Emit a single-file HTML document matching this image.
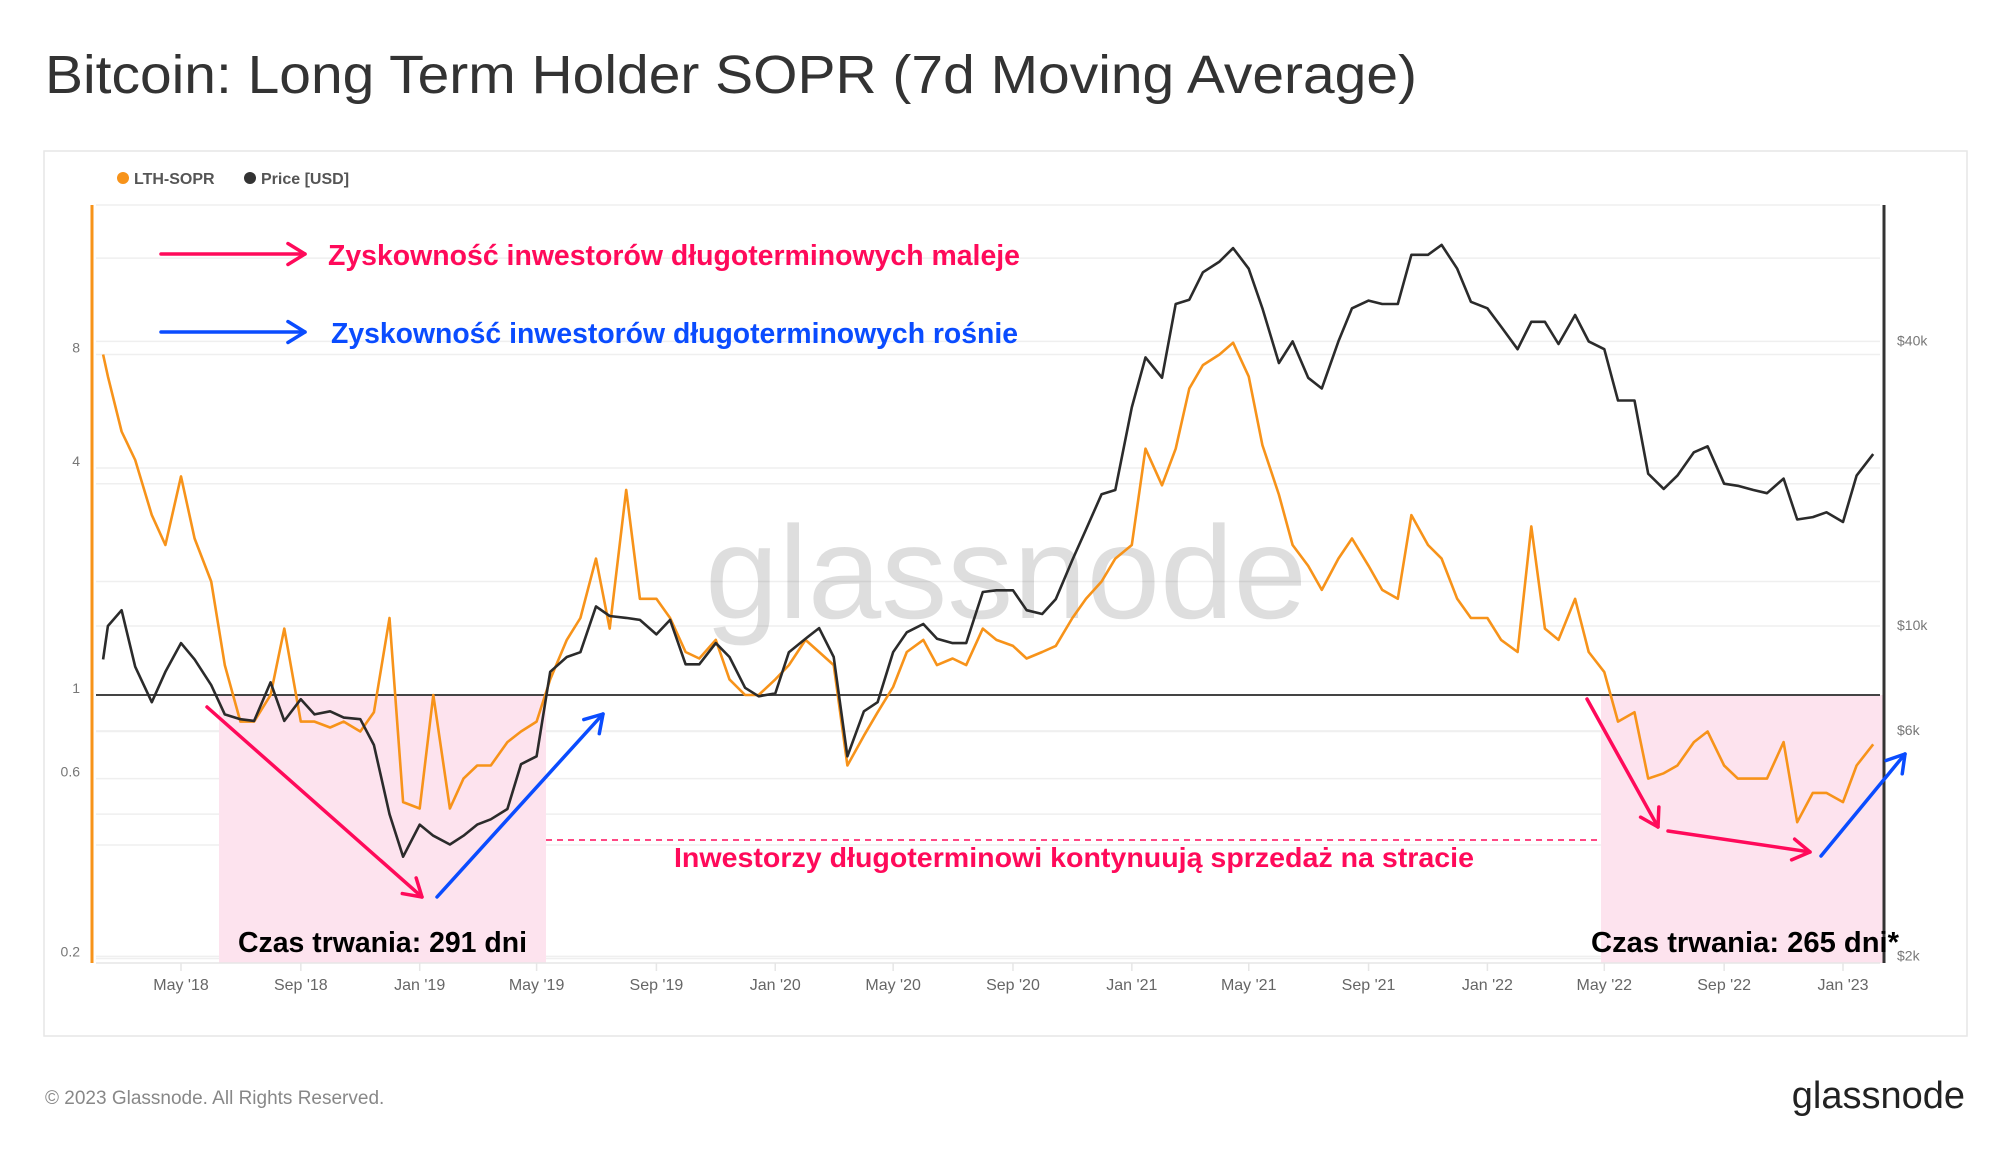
<!DOCTYPE html>
<html><head><meta charset="utf-8"><style>
html,body{margin:0;padding:0;background:#fff;}
svg{display:block;font-family:"Liberation Sans",sans-serif;}
</style></head><body>
<svg id="chart" width="2000" height="1152" viewBox="0 0 2000 1152" xmlns="http://www.w3.org/2000/svg">
<rect width="2000" height="1152" fill="#fff"/>
<text x="45" y="93" font-size="54" fill="#333" textLength="1372" lengthAdjust="spacingAndGlyphs">Bitcoin: Long Term Holder SOPR (7d Moving Average)</text>
<rect x="44" y="151" width="1923" height="885" fill="none" stroke="#e6e6e6" stroke-width="1.5"/>
<g>
<circle cx="123" cy="178" r="6" fill="#f7931a"/>
<text x="134" y="184" font-size="16" font-weight="bold" fill="#555">LTH-SOPR</text>
<circle cx="250" cy="178" r="6" fill="#333"/>
<text x="261" y="184" font-size="16" font-weight="bold" fill="#555">Price [USD]</text>
</g>
<g id="grid"></g>
<g id="shade"></g>
<text x="1006" y="618" font-size="132" fill="#000" fill-opacity="0.13" text-anchor="middle">glassnode</text>
<g id="axes"></g>
<g id="series"></g>
<g id="annot"></g>
<text x="45" y="1104" font-size="19" fill="#888">© 2023 Glassnode. All Rights Reserved.</text>
<text x="1965" y="1108" font-size="38" fill="#222" text-anchor="end">glassnode</text>
</svg>
<script>
const dates=["2018-02-10","2018-02-15","2018-03-01","2018-03-15","2018-04-01","2018-04-15","2018-05-01","2018-05-15","2018-06-01","2018-06-15","2018-07-01","2018-07-15","2018-08-01","2018-08-15","2018-09-01","2018-09-15","2018-10-01","2018-10-15","2018-11-01","2018-11-15","2018-12-01","2018-12-15","2019-01-01","2019-01-15","2019-02-01","2019-02-15","2019-03-01","2019-03-15","2019-04-01","2019-04-15","2019-05-01","2019-05-15","2019-06-01","2019-06-15","2019-07-01","2019-07-15","2019-08-01","2019-08-15","2019-09-01","2019-09-15","2019-10-01","2019-10-15","2019-11-01","2019-11-15","2019-12-01","2019-12-15","2020-01-01","2020-01-15","2020-02-01","2020-02-15","2020-03-01","2020-03-15","2020-04-01","2020-04-15","2020-05-01","2020-05-15","2020-06-01","2020-06-15","2020-07-01","2020-07-15","2020-08-01","2020-08-15","2020-09-01","2020-09-15","2020-10-01","2020-10-15","2020-11-01","2020-11-15","2020-12-01","2020-12-15","2021-01-01","2021-01-15","2021-02-01","2021-02-15","2021-03-01","2021-03-15","2021-04-01","2021-04-15","2021-05-01","2021-05-15","2021-06-01","2021-06-15","2021-07-01","2021-07-15","2021-08-01","2021-08-15","2021-09-01","2021-09-15","2021-10-01","2021-10-15","2021-11-01","2021-11-15","2021-12-01","2021-12-15","2022-01-01","2022-01-15","2022-02-01","2022-02-15","2022-03-01","2022-03-15","2022-04-01","2022-04-15","2022-05-01","2022-05-15","2022-06-01","2022-06-15","2022-07-01","2022-07-15","2022-08-01","2022-08-15","2022-09-01","2022-09-15","2022-10-01","2022-10-15","2022-11-01","2022-11-15","2022-12-01","2022-12-15","2023-01-01","2023-01-15","2023-02-01"];
const priceUsd=[8500,10000,10800,8200,6900,8000,9200,8500,7500,6500,6350,6300,7600,6300,7000,6500,6600,6400,6350,5600,4000,3250,3800,3600,3450,3600,3800,3900,4100,5100,5300,8000,8600,8800,11000,10500,10400,10300,9600,10300,8300,8300,9200,8600,7400,7100,7200,8800,9400,9900,8600,5300,6600,6900,8800,9700,10100,9400,9200,9200,11800,11900,11900,10800,10600,11400,13800,16000,19000,19400,29000,37000,33500,48000,49000,56000,59000,63000,57000,47000,36000,40000,33500,31800,40000,47000,48800,48000,48000,61000,61000,64000,57000,48500,47000,43000,38500,44000,44000,39500,45500,40000,38500,30000,30000,21000,19500,20800,23300,24000,20000,19800,19400,19100,20500,16800,17000,17400,16600,20800,23100];
const lthSopr=[8,7,5,4.2,3,2.5,3.8,2.6,2.0,1.2,0.85,0.85,1.0,1.5,0.85,0.85,0.82,0.85,0.8,0.9,1.6,0.52,0.5,1.0,0.5,0.6,0.65,0.65,0.75,0.8,0.85,1.1,1.4,1.6,2.3,1.5,3.5,1.8,1.8,1.6,1.3,1.25,1.4,1.1,1.0,1.0,1.1,1.2,1.4,1.3,1.2,0.65,0.78,0.9,1.05,1.3,1.4,1.2,1.25,1.2,1.5,1.4,1.35,1.25,1.3,1.35,1.6,1.8,2.0,2.3,2.5,4.5,3.6,4.5,6.5,7.5,8,8.6,7,4.6,3.4,2.5,2.2,1.9,2.3,2.6,2.2,1.9,1.8,3.0,2.5,2.3,1.8,1.6,1.6,1.4,1.3,2.8,1.5,1.4,1.8,1.3,1.15,0.85,0.9,0.6,0.62,0.65,0.75,0.8,0.65,0.6,0.6,0.6,0.75,0.46,0.55,0.55,0.52,0.65,0.74];
const soprTicks=[8,4,1,0.6,0.2];
const priceTicks=[40000,10000,6000,2000];
const priceTickLabels=["$40k","$10k","$6k","$2k"];
const xTickDates=["2018-05-01","2018-09-01","2019-01-01","2019-05-01","2019-09-01","2020-01-01","2020-05-01","2020-09-01","2021-01-01","2021-05-01","2021-09-01","2022-01-01","2022-05-01","2022-09-01","2023-01-01"];
const xTickLabels=["May '18","Sep '18","Jan '19","May '19","Sep '19","Jan '20","May '20","Sep '20","Jan '21","May '21","Sep '21","Jan '22","May '22","Sep '22","Jan '23"];

const NS="http://www.w3.org/2000/svg";
const PL=96,PR=1880,PT=205,PB=963;
const d0=Date.UTC(2018,4,1),d1=Date.UTC(2023,0,1);
function xScale(ds){const t=Date.parse(ds);return 181+(t-d0)/(d1-d0)*(1843-181);}
function ySopr(v){return 695-113.5*Math.log2(v);}
function yPrice(p){return 626-142.3*Math.log2(p/10000);}
function mk(tag,attrs,parent){const e=document.createElementNS(NS,tag);for(const k in attrs)e.setAttribute(k,attrs[k]);parent.appendChild(e);return e;}

const grid=document.getElementById('grid'),axes=document.getElementById('axes'),series=document.getElementById('series'),annot=document.getElementById('annot'),shade=document.getElementById('shade');
// gridlines
[...soprTicks.map(ySopr),...priceTicks.map(yPrice),PT,ySopr(2),ySopr(0.8),ySopr(0.4),yPrice(20000),yPrice(4000),yPrice(60000)].forEach(y=>{
  const l=mk('line',{x1:PL,x2:PR,y1:y,y2:y,stroke:'#efefef','stroke-width':1.5},grid);
  
  
});
// shaded regions
[[dates[6],"2019-05-20"],["2022-05-10","2023-02-10"]].forEach((r,i)=>{});
const sh1=mk('rect',{x:219,y:ySopr(1),width:327,height:PB-ySopr(1),fill:'#fde3ee'},shade);


const sh2=mk('rect',{x:1601,y:ySopr(1),width:282,height:PB-ySopr(1),fill:'#fde3ee'},shade);


// axes
const la=mk('line',{x1:92,x2:92,y1:PT,y2:PB,stroke:'#f7931a','stroke-width':3},axes);


const ra=mk('line',{x1:1884,x2:1884,y1:PT,y2:PB,stroke:'#333','stroke-width':3},axes);


const ba=mk('line',{x1:PL,x2:PR,y1:PB,y2:PB,stroke:'#e6e6e6','stroke-width':1.5},axes);


soprTicks.forEach(v=>{
  const t=mk('text',{x:80,y:ySopr(v)-2,'font-size':14,fill:'#777','text-anchor':'end'},axes);
  t.textContent=String(v);
  
  
});
priceTicks.forEach((p,i)=>{
  const t=mk('text',{x:1897,y:yPrice(p)+4,'font-size':14,fill:'#777'},axes);
  t.textContent=priceTickLabels[i];
  
  
});
xTickDates.forEach((d,i)=>{
  const x=xScale(d);
  const tk=mk('line',{x1:x,x2:x,y1:PB,y2:PB+8,stroke:'#e6e6e6','stroke-width':1.5},axes);
  
  
  const t=mk('text',{x:x,y:990,'font-size':16,fill:'#666','text-anchor':'middle'},axes);
  t.textContent=xTickLabels[i];
  
  
});
// line at 1
const one=mk('line',{x1:PL,x2:PR,y1:ySopr(1),y2:ySopr(1),stroke:'#444','stroke-width':2},series);


// series
const sp=mk('path',{d:dates.map((d,i)=>(i?'L':'M')+xScale(d).toFixed(1)+','+ySopr(lthSopr[i]).toFixed(1)).join(''),fill:'none',stroke:'#f7931a','stroke-width':2.6,'stroke-linejoin':'round'},series);


const pp=mk('path',{d:dates.map((d,i)=>(i?'L':'M')+xScale(d).toFixed(1)+','+yPrice(priceUsd[i]).toFixed(1)).join(''),fill:'none',stroke:'#2b2b2b','stroke-width':2.6,'stroke-linejoin':'round'},series);



// annotations
const RED='#ff0a5a',BLUE='#0a4cff';
function arrow(x1,y1,x2,y2,c,name){
  const g=mk('g',{},annot);
  
  
  mk('line',{x1,y1,x2,y2,stroke:c,'stroke-width':3.5,'stroke-linecap':'round'},g);
  const a=Math.atan2(y2-y1,x2-x1),L=20;
  const p=[[x2-L*Math.cos(a-0.55),y2-L*Math.sin(a-0.55)],[x2,y2],[x2-L*Math.cos(a+0.55),y2-L*Math.sin(a+0.55)]];
  mk('polyline',{points:p.map(q=>q.join(',')).join(' '),fill:'none',stroke:c,'stroke-width':3.5,'stroke-linecap':'round','stroke-linejoin':'round'},g);
}
function txt(x,y,s,c,size,w,name,anchor){
  const t=mk('text',{x,y,'font-size':size,'font-weight':'bold',fill:c,textLength:w,lengthAdjust:'spacingAndGlyphs','text-anchor':anchor||'start'},annot);
  t.textContent=s;
  
  
}
arrow(161,254,305,254,RED,'legend-arrow-decreasing');
arrow(161,332,305,332,BLUE,'legend-arrow-increasing');
txt(328,265,'Zyskowność inwestorów długoterminowych maleje',RED,29,692,'annotation-decreasing');
txt(331,343,'Zyskowność inwestorów długoterminowych rośnie',BLUE,29,687,'annotation-increasing');
arrow(207,707,422,897,RED,'arrow-2018-down');
arrow(437,897,603,714,BLUE,'arrow-2019-up');
arrow(1587,699,1658,827,RED,'arrow-2022-down');
arrow(1668,831,1810,852,RED,'arrow-2022-flat');
arrow(1821,856,1905,754,BLUE,'arrow-2023-up');
const dl=mk('line',{x1:546,x2:1601,y1:840,y2:840,stroke:RED,'stroke-width':1.5,'stroke-dasharray':'6,5'},annot);


txt(674,867,'Inwestorzy długoterminowi kontynuują sprzedaż na stracie',RED,28,800,'annotation-continued-loss');
txt(238,952,'Czas trwania: 291 dni','#000',29,289,'duration-2018-label');
txt(1591,952,'Czas trwania: 265 dni*','#000',29,308,'duration-2022-label');
</script>
</body></html>
